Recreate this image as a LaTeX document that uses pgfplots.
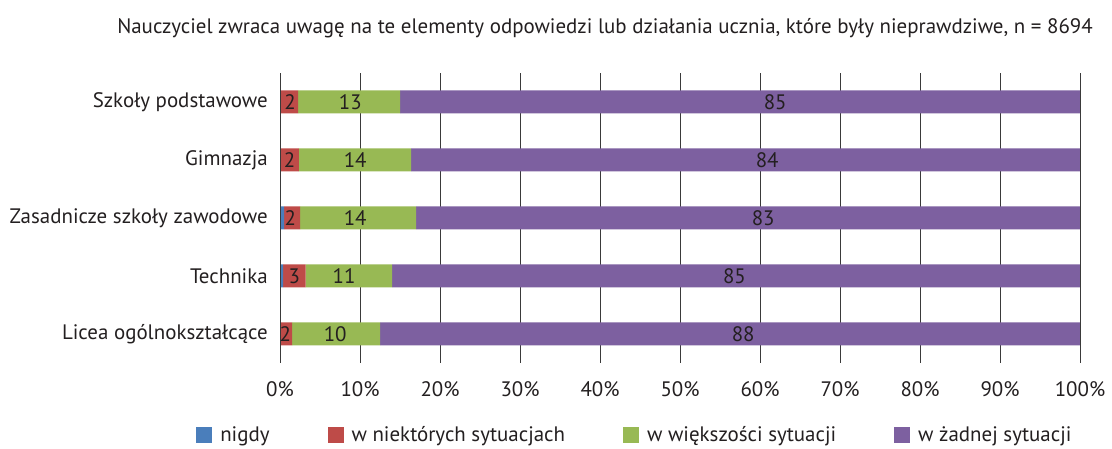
\documentclass[border=0pt]{standalone}
\usepackage{fontspec}
\setmainfont{PT Sans}
\usepackage{pgfplots}
\usepackage{pgfplotstable}
\pgfplotsset{compat=1.18}
\definecolor{cblue}{HTML}{4A7EBB}
\definecolor{cred}{HTML}{BE4B48}
\definecolor{cgreen}{HTML}{98B954}
\definecolor{cpurple}{HTML}{7D60A0}
\definecolor{ctext}{HTML}{231F20}
\definecolor{cgrid}{HTML}{3A3A3A}
\newcommand{\myfs}{\fontsize{15.7pt}{18pt}\selectfont}

\pgfplotstableread{
y blue red green purple
4 0   2.25 12.75 85
3 0   2.35 14.05 83.6
2 0.5 2.0  14.5  83
1 0.4 2.8  10.8  86
0 0   1.5  11.0  87.5
}\mydata

% data label positions (x centre of label, category row, shown value)
\pgfplotstableread{
x y lab
1.25 4 2
1.2  3 2
1.3  2 2
1.8  1 3
0.67 0 2
8.8  4 13
9.4  3 14
9.4  2 14
8.0  1 11
6.9  0 10
61.9 4 85
60.9 3 84
60.4 2 83
56.8 1 85
57.9 0 88
}\mylabels

\begin{document}
\begin{tikzpicture}
\begin{axis}[
  scale only axis,
  width=600pt, height=217.5pt,
  xbar stacked,
  bar width=17.25pt,
  xmin=0, xmax=100,
  ymin=-0.5, ymax=4.5,
  xtick={0,10,...,100},
  ytick={0,1,2,3,4},
  yticklabels={Licea ogólnokształcące,Technika,Zasadnicze szkoły zawodowe,Gimnazja,Szkoły podstawowe},
  xticklabel={\pgfmathprintnumber{\tick}\%},
  /pgf/number format/assume math mode=true,
  xmajorgrids,
  grid style={draw=cgrid, line width=0.75pt},
  axis line style={draw=none},
  major tick length=0pt,
  xticklabel style={font=\myfs, text=ctext, anchor=north, inner sep=0pt, yshift=-13.5pt},
  yticklabel style={font=\myfs, text=ctext, anchor=east, inner sep=0pt, xshift=-9pt},
  clip=false,
  legend columns=4,
  legend style={draw=none, font=\myfs, text=ctext, at={(rel axis cs:0.444,-0.248)}, anchor=center,
    /tikz/every odd column/.append style={column sep=4pt},
    /tikz/every even column/.append style={column sep=41.5pt}},
  legend image code/.code={\fill[#1] (0pt,-6pt) rectangle (12pt,6pt);},
]
\addplot[fill=cblue, draw=none] table[x=blue, y=y] {\mydata};
\addplot[fill=cred, draw=none] table[x=red, y=y] {\mydata};
\addplot[fill=cgreen, draw=none] table[x=green, y=y] {\mydata};
\addplot[fill=cpurple, draw=none] table[x=purple, y=y] {\mydata};
\legend{nigdy, w niektórych sytuacjach, w większości sytuacji, w żadnej sytuacji}

\node[font=\myfs, text=ctext] at (rel axis cs:0.40625,1.155) {Nauczyciel zwraca uwagę na te elementy odpowiedzi lub działania ucznia, które były nieprawdziwe, n = 8694};
\path (rel axis cs:-0.35,1.2517) rectangle (rel axis cs:1.04,-0.2897);
\end{axis}
\begin{axis}[
  scale only axis,
  width=600pt, height=217.5pt,
  xmin=0, xmax=100,
  ymin=-0.5, ymax=4.5,
  hide axis,
  clip=false,
]
\addplot[only marks, mark=none, nodes near coords, point meta=explicit symbolic,
  nodes near coords style={anchor=center, inner sep=0pt, font=\myfs, text=ctext}]
  table[x=x, y=y, meta=lab] {\mylabels};
\draw[cgrid, line width=0.75pt] (axis cs:0,-0.5) -- (axis cs:0,4.5);
\draw[cgrid, line width=0.75pt] (axis cs:100,-0.5) -- (axis cs:100,4.5);
\end{axis}
\end{tikzpicture}
\end{document}
